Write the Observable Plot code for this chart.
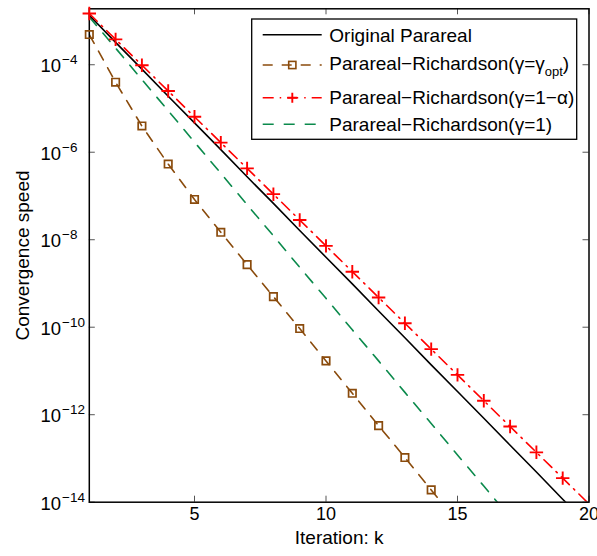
<!DOCTYPE html>
<html>
<head>
<meta charset="utf-8">
<script src="https://cdn.jsdelivr.net/npm/d3@7"></script>
<script src="https://cdn.jsdelivr.net/npm/@observablehq/plot@0.6"></script>
<style>
  html, body { margin: 0; padding: 0; background: #fff; overflow: hidden; }
  #chart { width: 597px; height: 556px; }
</style>
</head>
<body>
<div id="chart"></div>
<script>
// ---- Data ----
const iterations = [1, 2, 3, 4, 5, 6, 7, 8, 9, 10, 11, 12, 13, 14, 15, 16, 17, 18, 19, 20];

// Original Parareal (black solid)
const originalParareal = [1.35e-3, 3.24e-4, 7.94e-5, 1.91e-5, 4.68e-6, 1.15e-6, 2.75e-7, 6.76e-8, 1.62e-8, 3.98e-9,
  9.77e-10, 2.34e-10, 5.75e-11, 1.38e-11, 3.39e-12, 8.32e-13, 2.00e-13, 4.90e-14, 1.17e-14, 2.88e-15];

// Parareal-Richardson (gamma = gamma_opt), brown dashed with squares
const richardsonOpt = [4.90e-4, 3.98e-5, 3.98e-6, 5.37e-7, 8.32e-8, 1.48e-8, 2.69e-9, 5.01e-10, 9.33e-11, 1.70e-11,
  3.09e-12, 5.62e-13, 1.05e-13, 1.91e-14, 3.55e-15, 6.61e-16];

// Parareal-Richardson (gamma = 1 - alpha), red dash-dot with plus
const richardsonOneMinusAlpha = [1.48e-3, 3.80e-4, 9.77e-5, 2.51e-5, 6.46e-6, 1.66e-6, 4.27e-7, 1.10e-7, 2.82e-8, 7.24e-9,
  1.86e-9, 4.79e-10, 1.23e-10, 3.16e-11, 8.13e-12, 2.09e-12, 5.37e-13, 1.38e-13, 3.55e-14, 9.12e-15];

// Parareal-Richardson (gamma = 1), green dashed
const richardsonOne = [1.23e-3, 2.40e-4, 4.57e-5, 8.91e-6, 1.70e-6, 3.31e-7, 6.31e-8, 1.23e-8, 2.34e-9, 4.57e-10,
  8.71e-11, 1.70e-11, 3.24e-12, 6.31e-13, 1.20e-13, 2.34e-14, 4.47e-15];

const xTicks = [5, 10, 15, 20];
const yTicks = [1e-4, 1e-6, 1e-8, 1e-10, 1e-12, 1e-14];
const yTickLabels = ["10^−4", "10^−6", "10^−8", "10^−10", "10^−12", "10^−14"];
const yDomain = [1e-14, 1.9e-3];
const xDomain = [1, 20];

const xLabel = "Iteration: k";
const yLabel = "Convergence speed";

// ---- Styling ----
const COL = { black: "#000000", brown: "#8a4b0c", red: "#ff0000", green: "#0b8a4c" };
const DASH = { brown: "10,9", red: "11,6,1.5,6", green: "11,10" };
const FONT = "'Liberation Sans', Arial, Helvetica, sans-serif";

const toRows = (vals) => vals.map((v, i) => ({ k: iterations[i], v }));
const blackRows = toRows(originalParareal);
const brownRows = toRows(richardsonOpt);
const redRows = toRows(richardsonOneMinusAlpha);
const greenRows = toRows(richardsonOne);

const W = 597, H = 556;
const mL = 88.8, mR = 8.5, mT = 8.3, mB = 54.3;
const frameH = H - mT - mB;
const frameW = W - mL - mR;
const tickLen = 6;

const plot = Plot.plot({
  width: W,
  height: H,
  marginLeft: mL,
  marginRight: mR,
  marginTop: mT,
  marginBottom: mB,
  style: { fontFamily: FONT, background: "#fff", color: "#000" },
  x: { domain: xDomain, axis: null },
  y: { type: "log", domain: yDomain, axis: null },
  marks: [
    // series lines
    Plot.line(greenRows, { x: "k", y: "v", stroke: COL.green, strokeWidth: 1.6, strokeDasharray: DASH.green, clip: true }),
    Plot.line(blackRows, { x: "k", y: "v", stroke: COL.black, strokeWidth: 1.6, clip: true }),
    Plot.line(brownRows, { x: "k", y: "v", stroke: COL.brown, strokeWidth: 1.6, strokeDasharray: DASH.brown, clip: true }),
    Plot.line(redRows, { x: "k", y: "v", stroke: COL.red, strokeWidth: 1.6, strokeDasharray: DASH.red, clip: true }),
    // inward ticks on all four sides
    Plot.tickX(xTicks, { x: d => d, insetBottom: frameH - tickLen, stroke: "#555", strokeWidth: 1 }),
    Plot.tickX(xTicks, { x: d => d, insetTop: frameH - tickLen, stroke: "#555", strokeWidth: 1 }),
    Plot.tickY(yTicks, { y: d => d, insetRight: frameW - tickLen, stroke: "#555", strokeWidth: 1 }),
    Plot.tickY(yTicks, { y: d => d, insetLeft: frameW - tickLen, stroke: "#555", strokeWidth: 1 }),
    Plot.frame({ stroke: "#000", strokeWidth: 1.5 }),
    // markers
    Plot.dot(brownRows, { x: "k", y: "v", filter: d => d.v >= yDomain[0], symbol: "square", r: 4.2, stroke: COL.brown, strokeWidth: 1.7, fill: "none" }),
    Plot.dot(redRows, { x: "k", y: "v", filter: d => d.v >= yDomain[0], symbol: "plus", r: 4.4, stroke: COL.red, strokeWidth: 1.9 }),
    // tick labels
    Plot.text(xTicks, { x: d => d, text: d => String(d), frameAnchor: "bottom", dy: 18, fontSize: 18, fill: "#000" }),
    Plot.text(yTicks, { y: d => d, text: (d, i) => yTickLabels[i], frameAnchor: "left", dx: -48.8, dy: 1.5, textAnchor: "start", fontSize: 18.5, fill: "#000" }),
    // axis labels
    Plot.text([xLabel], { text: d => d, frameAnchor: "bottom", dy: 41.6, fontSize: 19, fill: "#000" }),
    Plot.text([yLabel], { text: d => d, frameAnchor: "left", dx: -66.8, rotate: -90, textAnchor: "middle", fontSize: 19, fill: "#000" })
  ]
});

document.getElementById("chart").appendChild(plot);

// turn "10^−4" into 10 with a raised exponent
d3.select(plot).selectAll("text").each(function () {
  const t = this.textContent;
  if (t.indexOf("^") > 0) {
    const [base, exp] = t.split("^");
    const sel = d3.select(this);
    sel.text(base);
    sel.append("tspan").attr("dx", 1).attr("dy", -8).attr("font-size", 13.5).text(exp);
  }
});

// ---- Legend (inside the axes, top right) ----
const svg = d3.select(plot);
const lg = svg.append("g").attr("font-family", FONT).attr("font-size", 19).attr("text-anchor", "start");
lg.append("rect").attr("x", 251.7).attr("y", 19).attr("width", 325).attr("height", 120.3)
  .attr("fill", "#fff").attr("stroke", "#000").attr("stroke-width", 1.3);

const legendItems = [
  { color: COL.black, dash: null, marker: null, lineY: 34.7, baseY: 41.7, parts: [["Original Parareal"]] },
  { color: COL.brown, dash: DASH.brown, marker: "square", lineY: 65, baseY: 70,
    parts: [["Parareal−Richardson(γ=γ"], ["opt", "sub"], [")", "up"]] },
  { color: COL.red, dash: DASH.red, marker: "plus", lineY: 97.7, baseY: 104, parts: [["Parareal−Richardson(γ=1−α)"]] },
  { color: COL.green, dash: DASH.green, marker: null, lineY: 124.3, baseY: 130.7, parts: [["Parareal−Richardson(γ=1)"]] }
];

legendItems.forEach(it => {
  const ln = lg.append("line").attr("x1", 262.7).attr("x2", 321.7).attr("y1", it.lineY).attr("y2", it.lineY)
    .attr("stroke", it.color).attr("stroke-width", 1.6);
  if (it.dash) ln.attr("stroke-dasharray", it.dash);
  const cx = 292.3;
  if (it.marker === "square") {
    lg.append("rect").attr("x", cx - 3.6).attr("y", it.lineY - 3.6).attr("width", 7.2).attr("height", 7.2)
      .attr("fill", "none").attr("stroke", it.color).attr("stroke-width", 1.6);
  } else if (it.marker === "plus") {
    lg.append("path").attr("d", `M${cx - 5},${it.lineY}H${cx + 5}M${cx},${it.lineY - 5}V${it.lineY + 5}`)
      .attr("stroke", it.color).attr("stroke-width", 1.9).attr("fill", "none");
  }
  const tx = lg.append("text").attr("x", 329.3).attr("y", it.baseY).attr("fill", "#000").attr("text-anchor", "start");
  it.parts.forEach(p => {
    const ts = tx.append("tspan").text(p[0]);
    if (p[1] === "sub") ts.attr("font-size", 13).attr("dy", 6);
    if (p[1] === "up") ts.attr("dy", -6);
  });
});
</script>
</body>
</html>
